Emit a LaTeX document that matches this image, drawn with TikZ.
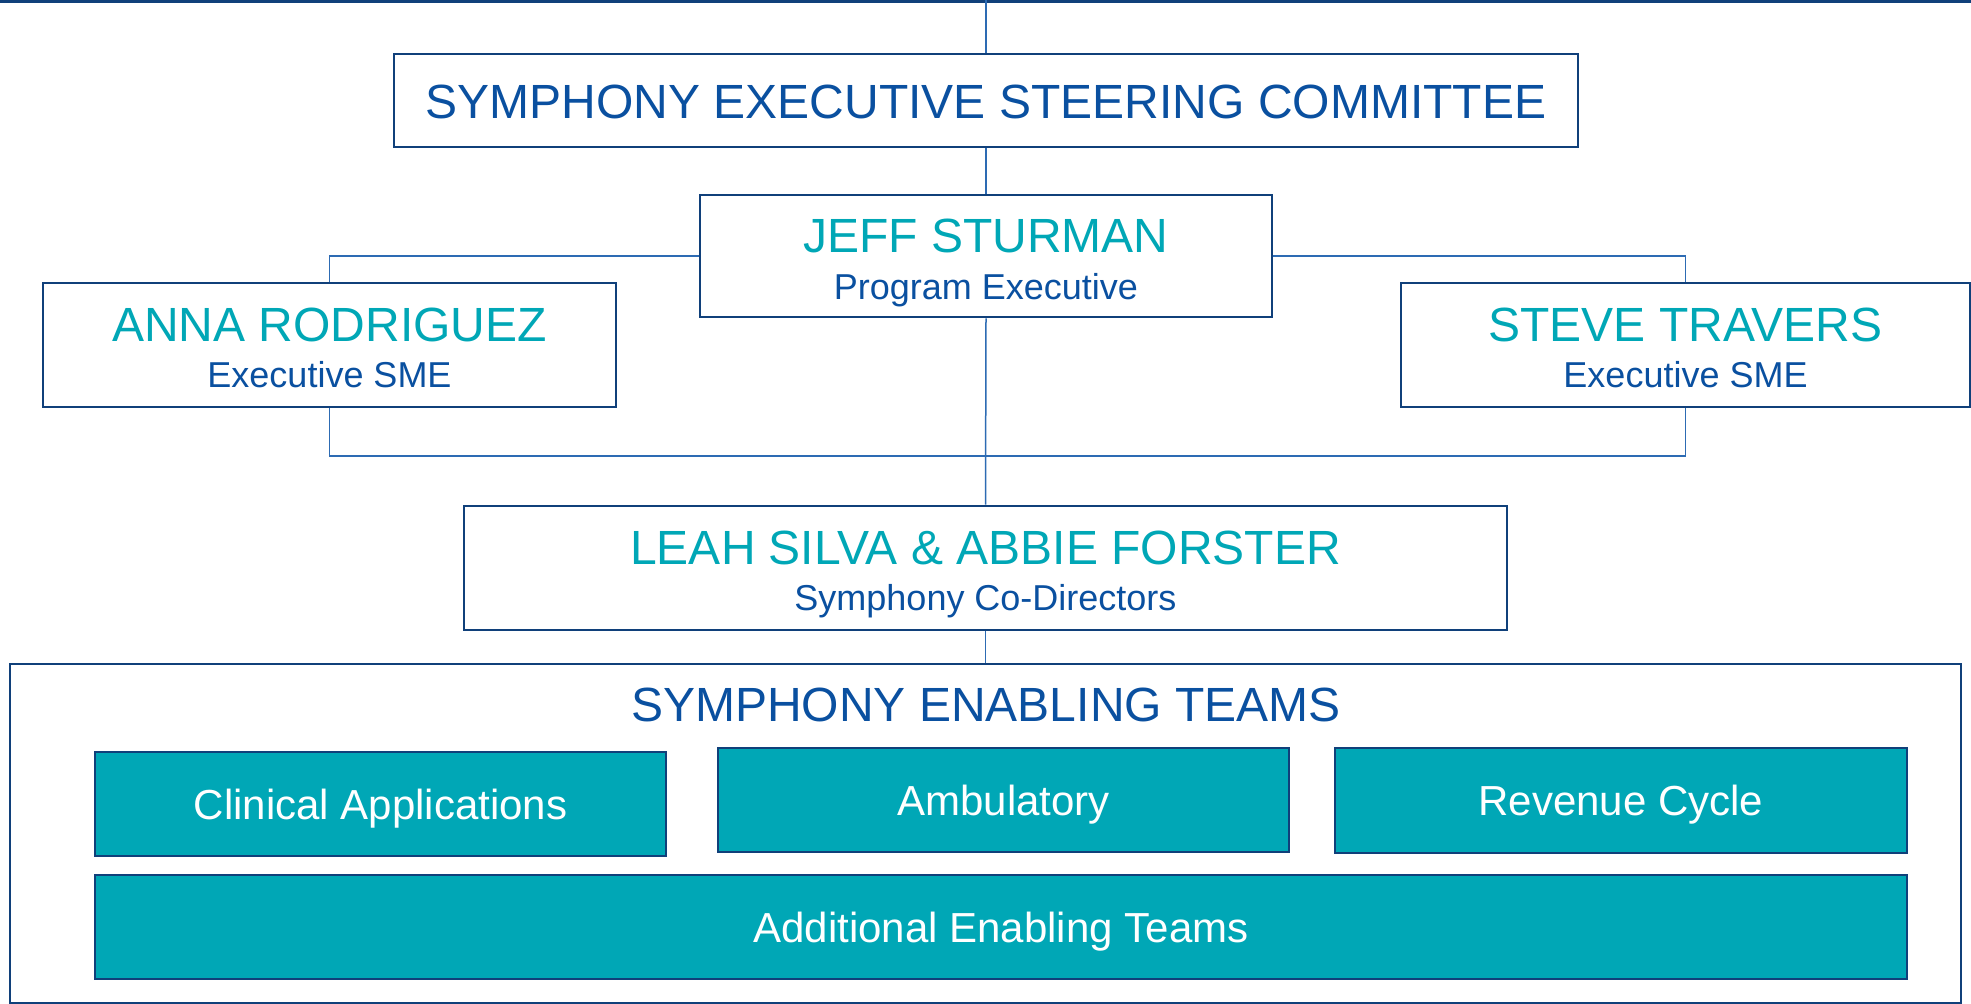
\documentclass[tikz,border=0pt]{standalone}
\usepackage{fontspec}
\setmainfont{Liberation Sans}
\definecolor{navy}{HTML}{10407A}
\definecolor{txtblue}{HTML}{0A50A0}
\definecolor{tealc}{HTML}{00A7B6}
\definecolor{lineblue}{HTML}{2D6BB3}
\tikzset{
  wbox/.style={draw=navy, line width=2.6pt, fill=white, rectangle, inner sep=0pt},
  tbox/.style={draw=navy, line width=2.4pt, fill=tealc, rectangle, inner sep=0pt,
    text=white, font=\fontsize{42}{42}\selectfont, text height=30pt, text depth=0pt},
  nametxt/.style={anchor=base, text=tealc, font=\fontsize{48}{48}\selectfont, inner sep=0pt},
  roletxt/.style={anchor=base, text=txtblue, font=\fontsize{36}{36}\selectfont, inner sep=0pt},
  headtxt/.style={anchor=base, text=txtblue, font=\fontsize{48}{48}\selectfont, inner sep=0pt},
  conn/.style={draw=lineblue, line width=1.5pt},
}
\begin{document}
\begin{tikzpicture}[x=1pt,y=-1pt]
\useasboundingbox (0,0) rectangle (1971,1004);
% top rule
\coordinate (topL) at (0,1.2);
\coordinate (topR) at (1971,1.2);
\coordinate (topC) at (986,0);
\draw[navy, line width=2.6pt] (topL) -- (topR);
% boxes
\node[wbox, minimum width=1184pt, minimum height=93pt] (comm) at (986,100.5) {};
\node[wbox, minimum width=572pt, minimum height=122pt] (jeff) at (986,256) {};
\node[wbox, minimum width=573pt, minimum height=124pt] (anna) at (329.5,345) {};
\node[wbox, minimum width=569pt, minimum height=124pt] (steve) at (1685.5,345) {};
\node[wbox, minimum width=1043pt, minimum height=124pt] (leah) at (985.5,568) {};
\node[wbox, minimum width=1951pt, minimum height=339pt] (teams) at (985.5,833.5) {};
% connectors
\coordinate (cb) at (986,456);
\draw[conn] (topC) -- (comm.north);
\draw[conn] (comm.south) -- (jeff.north);
\draw[conn] (jeff.west) -| (anna.north);
\draw[conn] (jeff.east) -| (steve.north);
\draw[conn] (anna.south) |- (cb) -| (steve.south);
\draw[conn] (jeff.south) -- (leah.north);
\draw[conn] (leah.south) -- (teams.north);
% redraw boxes on top of connectors
\node[wbox, minimum width=1184pt, minimum height=93pt] at (comm) {};
\node[wbox, minimum width=572pt, minimum height=122pt] at (jeff) {};
\node[wbox, minimum width=573pt, minimum height=124pt] at (anna) {};
\node[wbox, minimum width=569pt, minimum height=124pt] at (steve) {};
\node[wbox, minimum width=1043pt, minimum height=124pt] at (leah) {};
% texts
\node[headtxt] (commT) at (986,118) {SYMPHONY EXECUTIVE STEERING COMMITTEE};
\node[nametxt] (jeffN) at (986,252.5) {JEFF STURMAN};
\node[roletxt] (jeffR) at (986,299) {Program Executive};
\node[nametxt] (annaN) at (329.5,341) {ANNA RODRIGUEZ};
\node[roletxt] (annaR) at (329.5,387) {Executive SME};
\node[nametxt] (steveN) at (1685.5,341) {STEVE TRAVERS};
\node[roletxt] (steveR) at (1685.5,387) {Executive SME};
\node[nametxt] (leahN) at (985.5,564) {LEAH SILVA \& ABBIE FORSTER};
\node[roletxt] (leahR) at (985.5,610) {Symphony Co-Directors};
\node[headtxt] (teamsT) at (986,721) {SYMPHONY ENABLING TEAMS};
% team cells
\node[tbox, minimum width=571pt, minimum height=104pt] (clin) at (380.5,804) {Clinical Applications};
\node[tbox, minimum width=571pt, minimum height=104pt] (amb) at (1003.5,800) {Ambulatory};
\node[tbox, minimum width=572pt, minimum height=105pt] (rev) at (1621,800.5) {Revenue Cycle};
\node[tbox, minimum width=1812pt, minimum height=104pt] (add) at (1001,927) {Additional Enabling Teams};
\end{tikzpicture}
\end{document}
